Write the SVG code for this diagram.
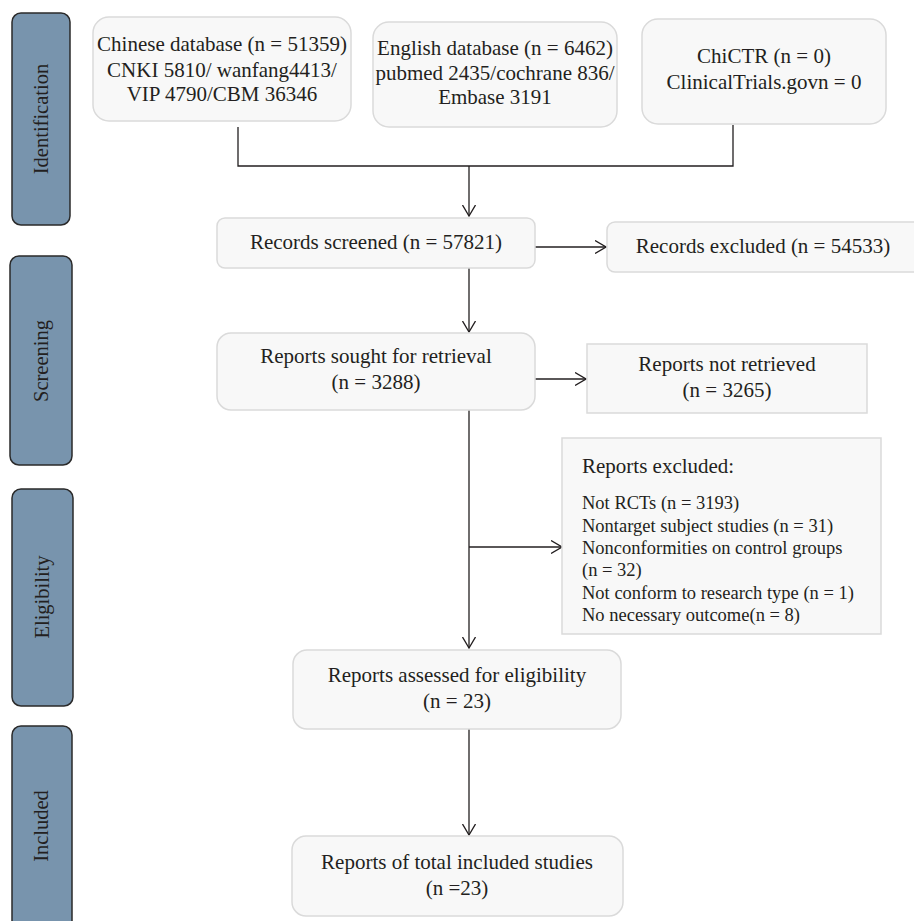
<svg xmlns="http://www.w3.org/2000/svg" width="914" height="921" viewBox="0 0 914 921">
<defs>
<marker id="arr" viewBox="0 0 12 14" refX="11.5" refY="7" markerWidth="12" markerHeight="14" markerUnits="userSpaceOnUse" orient="auto">
<path d="M0.5,0.5 L11.5,7 L0.5,13.5" fill="none" stroke="#231f20" stroke-width="1.3"/>
</marker>
<style>
text{font-family:"Liberation Serif","Times New Roman",serif;fill:#231f20}
.t{font-size:21px;text-anchor:middle}
.s{font-size:18.5px}
.side rect{fill:#7894ad;stroke:#2a2a2a;stroke-width:1.5}
.side text{font-size:20.5px;text-anchor:middle}
.box{fill:#f8f8f8;stroke:#dadada;stroke-width:1.5}
.c{fill:none;stroke:#231f20;stroke-width:1.3}
</style>
</defs>
<rect width="914" height="921" fill="#ffffff"/>

<g id="phase-identification" class="side"><rect x="12" y="13" width="58" height="212" rx="9"/><text transform="translate(48,119) rotate(-90)">Identification</text></g>
<g id="phase-screening" class="side"><rect x="10" y="256" width="62" height="209" rx="9"/><text transform="translate(48,361) rotate(-90)">Screening</text></g>
<g id="phase-eligibility" class="side"><rect x="12" y="489" width="61" height="217" rx="9"/><text transform="translate(49,597) rotate(-90)">Eligibility</text></g>
<g id="phase-included" class="side"><rect x="12" y="726" width="60" height="210" rx="9"/><text transform="translate(48,826) rotate(-90)">Included</text></g>

<g id="connectors">
<path class="c" d="M238,127 V166 H733 V125"/>
<path class="c" d="M469,166 V216" marker-end="url(#arr)"/>
<path class="c" d="M535,247 H606" marker-end="url(#arr)"/>
<path class="c" d="M469,268 V332" marker-end="url(#arr)"/>
<path class="c" d="M535,379 H586" marker-end="url(#arr)"/>
<path class="c" d="M469,410 V648" marker-end="url(#arr)"/>
<path class="c" d="M469,547 H562" marker-end="url(#arr)"/>
<path class="c" d="M469,729 V835" marker-end="url(#arr)"/>
</g>

<g id="chinese-db"><rect class="box" x="93" y="17" width="258" height="104" rx="16"/>
<text class="t" x="222" y="51">Chinese database (n = 51359)</text>
<text class="t" x="222" y="77">CNKI 5810/ wanfang4413/</text>
<text class="t" x="222" y="101">VIP 4790/CBM 36346</text></g>

<g id="english-db"><rect class="box" x="373" y="22" width="244" height="105" rx="16"/>
<text class="t" x="495" y="55">English database (n = 6462)</text>
<text class="t" x="495" y="80">pubmed 2435/cochrane 836/</text>
<text class="t" x="495" y="104">Embase 3191</text></g>

<g id="registers"><rect class="box" x="642" y="19" width="244" height="105" rx="16"/>
<text class="t" x="764" y="63">ChiCTR (n = 0)</text>
<text class="t" x="764" y="89">ClinicalTrials.govn = 0</text></g>

<g id="records-screened"><rect class="box" x="217" y="218" width="318" height="50" rx="8"/>
<text class="t" x="376" y="249">Records screened (n = 57821)</text></g>

<g id="records-excluded"><rect class="box" x="607" y="222" width="320" height="50" rx="8"/>
<text class="t" x="763" y="253">Records excluded (n = 54533)</text></g>

<g id="reports-sought"><rect class="box" x="217" y="333" width="318" height="77" rx="14"/>
<text class="t" x="376" y="363">Reports sought for retrieval</text>
<text class="t" x="376" y="389">(n = 3288)</text></g>

<g id="reports-not-retrieved"><rect class="box" x="587" y="344" width="280" height="69"/>
<text class="t" x="727" y="371">Reports not retrieved</text>
<text class="t" x="727" y="397">(n = 3265)</text></g>

<g id="reports-excluded"><rect class="box" x="562" y="438" width="319" height="196"/>
<text x="582" y="473" style="font-size:21px">Reports excluded:</text>
<text class="s" x="582" y="509">Not RCTs (n = 3193)</text>
<text class="s" x="582" y="532">Nontarget subject studies (n = 31)</text>
<text class="s" x="582" y="554">Nonconformities on control groups</text>
<text class="s" x="582" y="576">(n = 32)</text>
<text class="s" x="582" y="599">Not conform to research type (n = 1)</text>
<text class="s" x="582" y="621">No necessary outcome(n = 8)</text></g>

<g id="reports-assessed"><rect class="box" x="293" y="650" width="328" height="79" rx="14"/>
<text class="t" x="457" y="682">Reports assessed for eligibility</text>
<text class="t" x="457" y="708">(n = 23)</text></g>

<g id="reports-included"><rect class="box" x="292" y="836" width="331" height="80" rx="14"/>
<text class="t" x="457" y="869">Reports of total included studies</text>
<text class="t" x="457" y="895">(n =23)</text></g>
</svg>
